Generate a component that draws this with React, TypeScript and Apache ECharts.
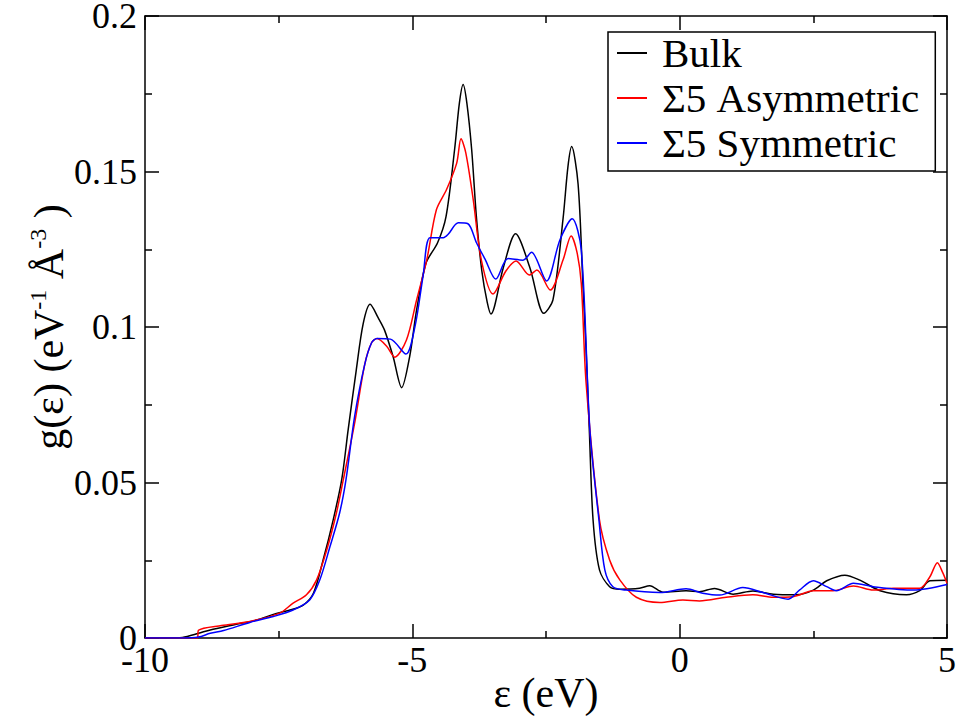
import React, { useEffect, useRef } from "react";
import * as echarts from "echarts";

const seriesNames = ["Bulk", "Σ5 Asymmetric", "Σ5 Symmetric"];
const seriesColors = ["#000000", "#ff0000", "#0000ff"];

const bulk: [number, number][] = [
  [-10, 0], [-9.6, 0], [-9.3, 0.0002], [-9.0, 0.0015], [-8.78, 0.0026], [-8.35, 0.0042],
  [-7.91, 0.0058], [-7.6, 0.0076], [-7.29, 0.009], [-7.04, 0.0106], [-6.85, 0.0144],
  [-6.67, 0.025], [-6.48, 0.038], [-6.32, 0.051], [-6.2, 0.067], [-6.05, 0.086],
  [-5.92, 0.101], [-5.79, 0.1073], [-5.64, 0.103], [-5.52, 0.099],
  [-5.36, 0.0905], [-5.2, 0.0805], [-5.05, 0.0905], [-4.92, 0.1055], [-4.745, 0.1205],
  [-4.53, 0.127], [-4.37, 0.1355], [-4.21, 0.157], [-4.12, 0.172], [-4.05, 0.178],
  [-3.98, 0.172], [-3.89, 0.157], [-3.8, 0.135], [-3.7, 0.118], [-3.6, 0.108],
  [-3.53, 0.1042], [-3.3, 0.119], [-3.07, 0.13], [-2.8, 0.119], [-2.54, 0.1044],
  [-2.37, 0.1087], [-2.18, 0.135], [-2.09, 0.1515], [-2.02, 0.158], [-1.9, 0.146],
  [-1.81, 0.114], [-1.75, 0.0926], [-1.69, 0.067], [-1.62, 0.038], [-1.5, 0.0219],
  [-1.31, 0.0165], [-1.12, 0.0157], [-0.75, 0.016], [-0.56, 0.0168], [-0.31, 0.0147],
  [0.12, 0.0152], [0.37, 0.0149], [0.65, 0.0159], [1.0, 0.0141], [1.37, 0.0151],
  [1.75, 0.0141], [2.18, 0.0139], [2.5, 0.0154], [2.75, 0.0184], [3.09, 0.0202],
  [3.37, 0.0186], [3.75, 0.0152], [4.24, 0.0139], [4.49, 0.0152], [4.68, 0.0184],
  [5.0, 0.0186],
];

const asymmetric: [number, number][] = [
  [-10, 0], [-9.02, 0], [-9.0, 0.0025], [-8.57, 0.004], [-8.04, 0.0053], [-7.48, 0.008],
  [-7.23, 0.0112], [-6.98, 0.0139], [-6.79, 0.0187], [-6.6, 0.0284], [-6.42, 0.0402],
  [-6.29, 0.051], [-6.08, 0.069], [-5.89, 0.088], [-5.76, 0.095], [-5.66, 0.0963],
  [-5.48, 0.0938], [-5.33, 0.0903], [-5.11, 0.0958], [-4.92, 0.1087], [-4.73, 0.1216],
  [-4.55, 0.1377], [-4.36, 0.1442], [-4.17, 0.1527], [-4.09, 0.1605], [-4.0, 0.156],
  [-3.86, 0.1408], [-3.71, 0.1216], [-3.49, 0.1106], [-3.25, 0.118], [-3.06, 0.1212],
  [-2.81, 0.1167], [-2.67, 0.1183], [-2.42, 0.1119], [-2.18, 0.1216], [-2.03, 0.1293],
  [-1.92, 0.124], [-1.84, 0.114], [-1.75, 0.082], [-1.5, 0.038], [-1.31, 0.0251],
  [-1.12, 0.0187], [-0.81, 0.0131], [-0.37, 0.0114], [0.06, 0.0122], [0.37, 0.0119],
  [0.87, 0.0131], [1.37, 0.0139], [1.75, 0.0131], [2.12, 0.0133], [2.5, 0.0152],
  [2.87, 0.0152], [3.25, 0.0167], [3.62, 0.0154], [4.0, 0.016], [4.49, 0.016],
  [4.68, 0.0197], [4.82, 0.0242], [4.92, 0.021], [5.0, 0.0176],
];

const symmetric: [number, number][] = [
  [-10, 0], [-9.3, 0], [-9.0, 0.0003], [-8.78, 0.0015], [-8.53, 0.0024], [-8.04, 0.005],
  [-7.6, 0.0069], [-7.23, 0.009], [-6.92, 0.0122], [-6.73, 0.0187], [-6.54, 0.0294],
  [-6.36, 0.0402], [-6.24, 0.051], [-6.08, 0.0712], [-5.89, 0.088], [-5.76, 0.095],
  [-5.66, 0.0963], [-5.41, 0.0961], [-5.12, 0.0913], [-4.95, 0.1002], [-4.8, 0.1163],
  [-4.67, 0.1287], [-4.42, 0.1287], [-4.33, 0.1298], [-4.14, 0.1335], [-3.96, 0.1332],
  [-3.8, 0.1271], [-3.64, 0.1218], [-3.44, 0.1154], [-3.21, 0.122], [-2.93, 0.1215],
  [-2.77, 0.124], [-2.49, 0.1148], [-2.24, 0.128], [-2.01, 0.1348], [-1.84, 0.1248],
  [-1.68, 0.067], [-1.51, 0.038], [-1.4, 0.0219], [-1.25, 0.0165], [-1.0, 0.0154],
  [-0.37, 0.0146], [0.12, 0.0158], [0.43, 0.0144], [0.75, 0.0138], [1.18, 0.0162],
  [1.56, 0.0146], [2.03, 0.0125], [2.24, 0.0154], [2.5, 0.0184], [2.75, 0.0165],
  [2.93, 0.0152], [3.25, 0.0176], [3.62, 0.0165], [4.37, 0.0154], [5.0, 0.0172],
];

const seriesData = [bulk, asymmetric, symmetric];

const FONT = "'Liberation Serif', 'Times New Roman', serif";

function frameAxis(extra: any) {
  return {
    type: "value",
    axisLine: { show: true, onZero: false, lineStyle: { color: "#000", width: 1.5 } },
    axisTick: { show: true, inside: true, length: 14, lineStyle: { color: "#000", width: 1.5 } },
    minorTick: { show: true, splitNumber: 2, length: 7, lineStyle: { color: "#000", width: 1.5 } },
    splitLine: { show: false },
    minorSplitLine: { show: false },
    ...extra,
  };
}

export default function App() {
  const ref = useRef<HTMLDivElement>(null);
  useEffect(() => {
    if (!ref.current) return;
    const chart = echarts.init(ref.current, null, { renderer: "svg" });
    const labelStyle = { fontSize: 36, fontFamily: FONT, color: "#000", lineHeight: 24 };
    chart.setOption({
      animation: false,
      backgroundColor: "#ffffff",
      grid: {
        left: 145, right: 13, top: 16, bottom: 82,
        containLabel: false, outerBoundsMode: "none",
      },
      xAxis: [
        frameAxis({
          min: -10, max: 5, interval: 5, position: "bottom",
          axisLabel: { ...labelStyle, margin: 10, showMinLabel: true, showMaxLabel: true },
          name: "ε (eV)", nameLocation: "middle", nameGap: 34, nameMoveOverlap: false,
          nameTextStyle: { fontSize: 42, fontFamily: FONT, color: "#000", lineHeight: 42 },
        }),
        frameAxis({ min: -10, max: 5, interval: 5, position: "top", axisLabel: { show: false } }),
      ],
      yAxis: [
        frameAxis({
          min: 0, max: 0.2, interval: 0.05, position: "left",
          axisLabel: { ...labelStyle, margin: 8, showMinLabel: true, showMaxLabel: true },
          name: "{n|g(ε) (eV}{s|-1}{n| Å}{s|-3}{n| )}", nameLocation: "middle", nameGap: 75,
          nameMoveOverlap: false,
          nameTextStyle: {
            fontSize: 42, fontFamily: FONT, color: "#000",
            rich: {
              n: { fontSize: 42, fontFamily: FONT, color: "#000", lineHeight: 44, verticalAlign: "bottom" },
              s: {
                fontSize: 24, fontFamily: FONT, color: "#000", lineHeight: 24,
                verticalAlign: "top", padding: [0, 0, 44, 0],
              },
            },
          },
        }),
        frameAxis({ min: 0, max: 0.2, interval: 0.05, position: "right", axisLabel: { show: false } }),
      ],
      legend: {
        data: seriesNames,
        orient: "vertical",
        left: 608,
        top: 32,
        padding: [0, 16, 7, 9],
        itemGap: 3,
        itemWidth: 30,
        itemHeight: 2,
        icon: "rect",
        borderColor: "#000",
        borderWidth: 1.5,
        backgroundColor: "#fff",
        textStyle: { fontSize: 41, fontFamily: FONT, color: "#000", lineHeight: 42, padding: [0, 0, 0, 10] },
      },
      series: seriesNames.map((name, i) => ({
        type: "line",
        name,
        data: seriesData[i],
        xAxisIndex: 0,
        yAxisIndex: 0,
        showSymbol: false,
        symbol: "none",
        smooth: 0.3,
        lineStyle: { width: 1.5, color: seriesColors[i] },
        itemStyle: { color: seriesColors[i] },
        z: 2 + i,
      })),
    });
    return () => chart.dispose();
  }, []);
  return (
    <div
      ref={ref}
      style={{ position: "fixed", left: 0, top: 0, width: 960, height: 720, background: "#fff" }}
    />
  );
}
